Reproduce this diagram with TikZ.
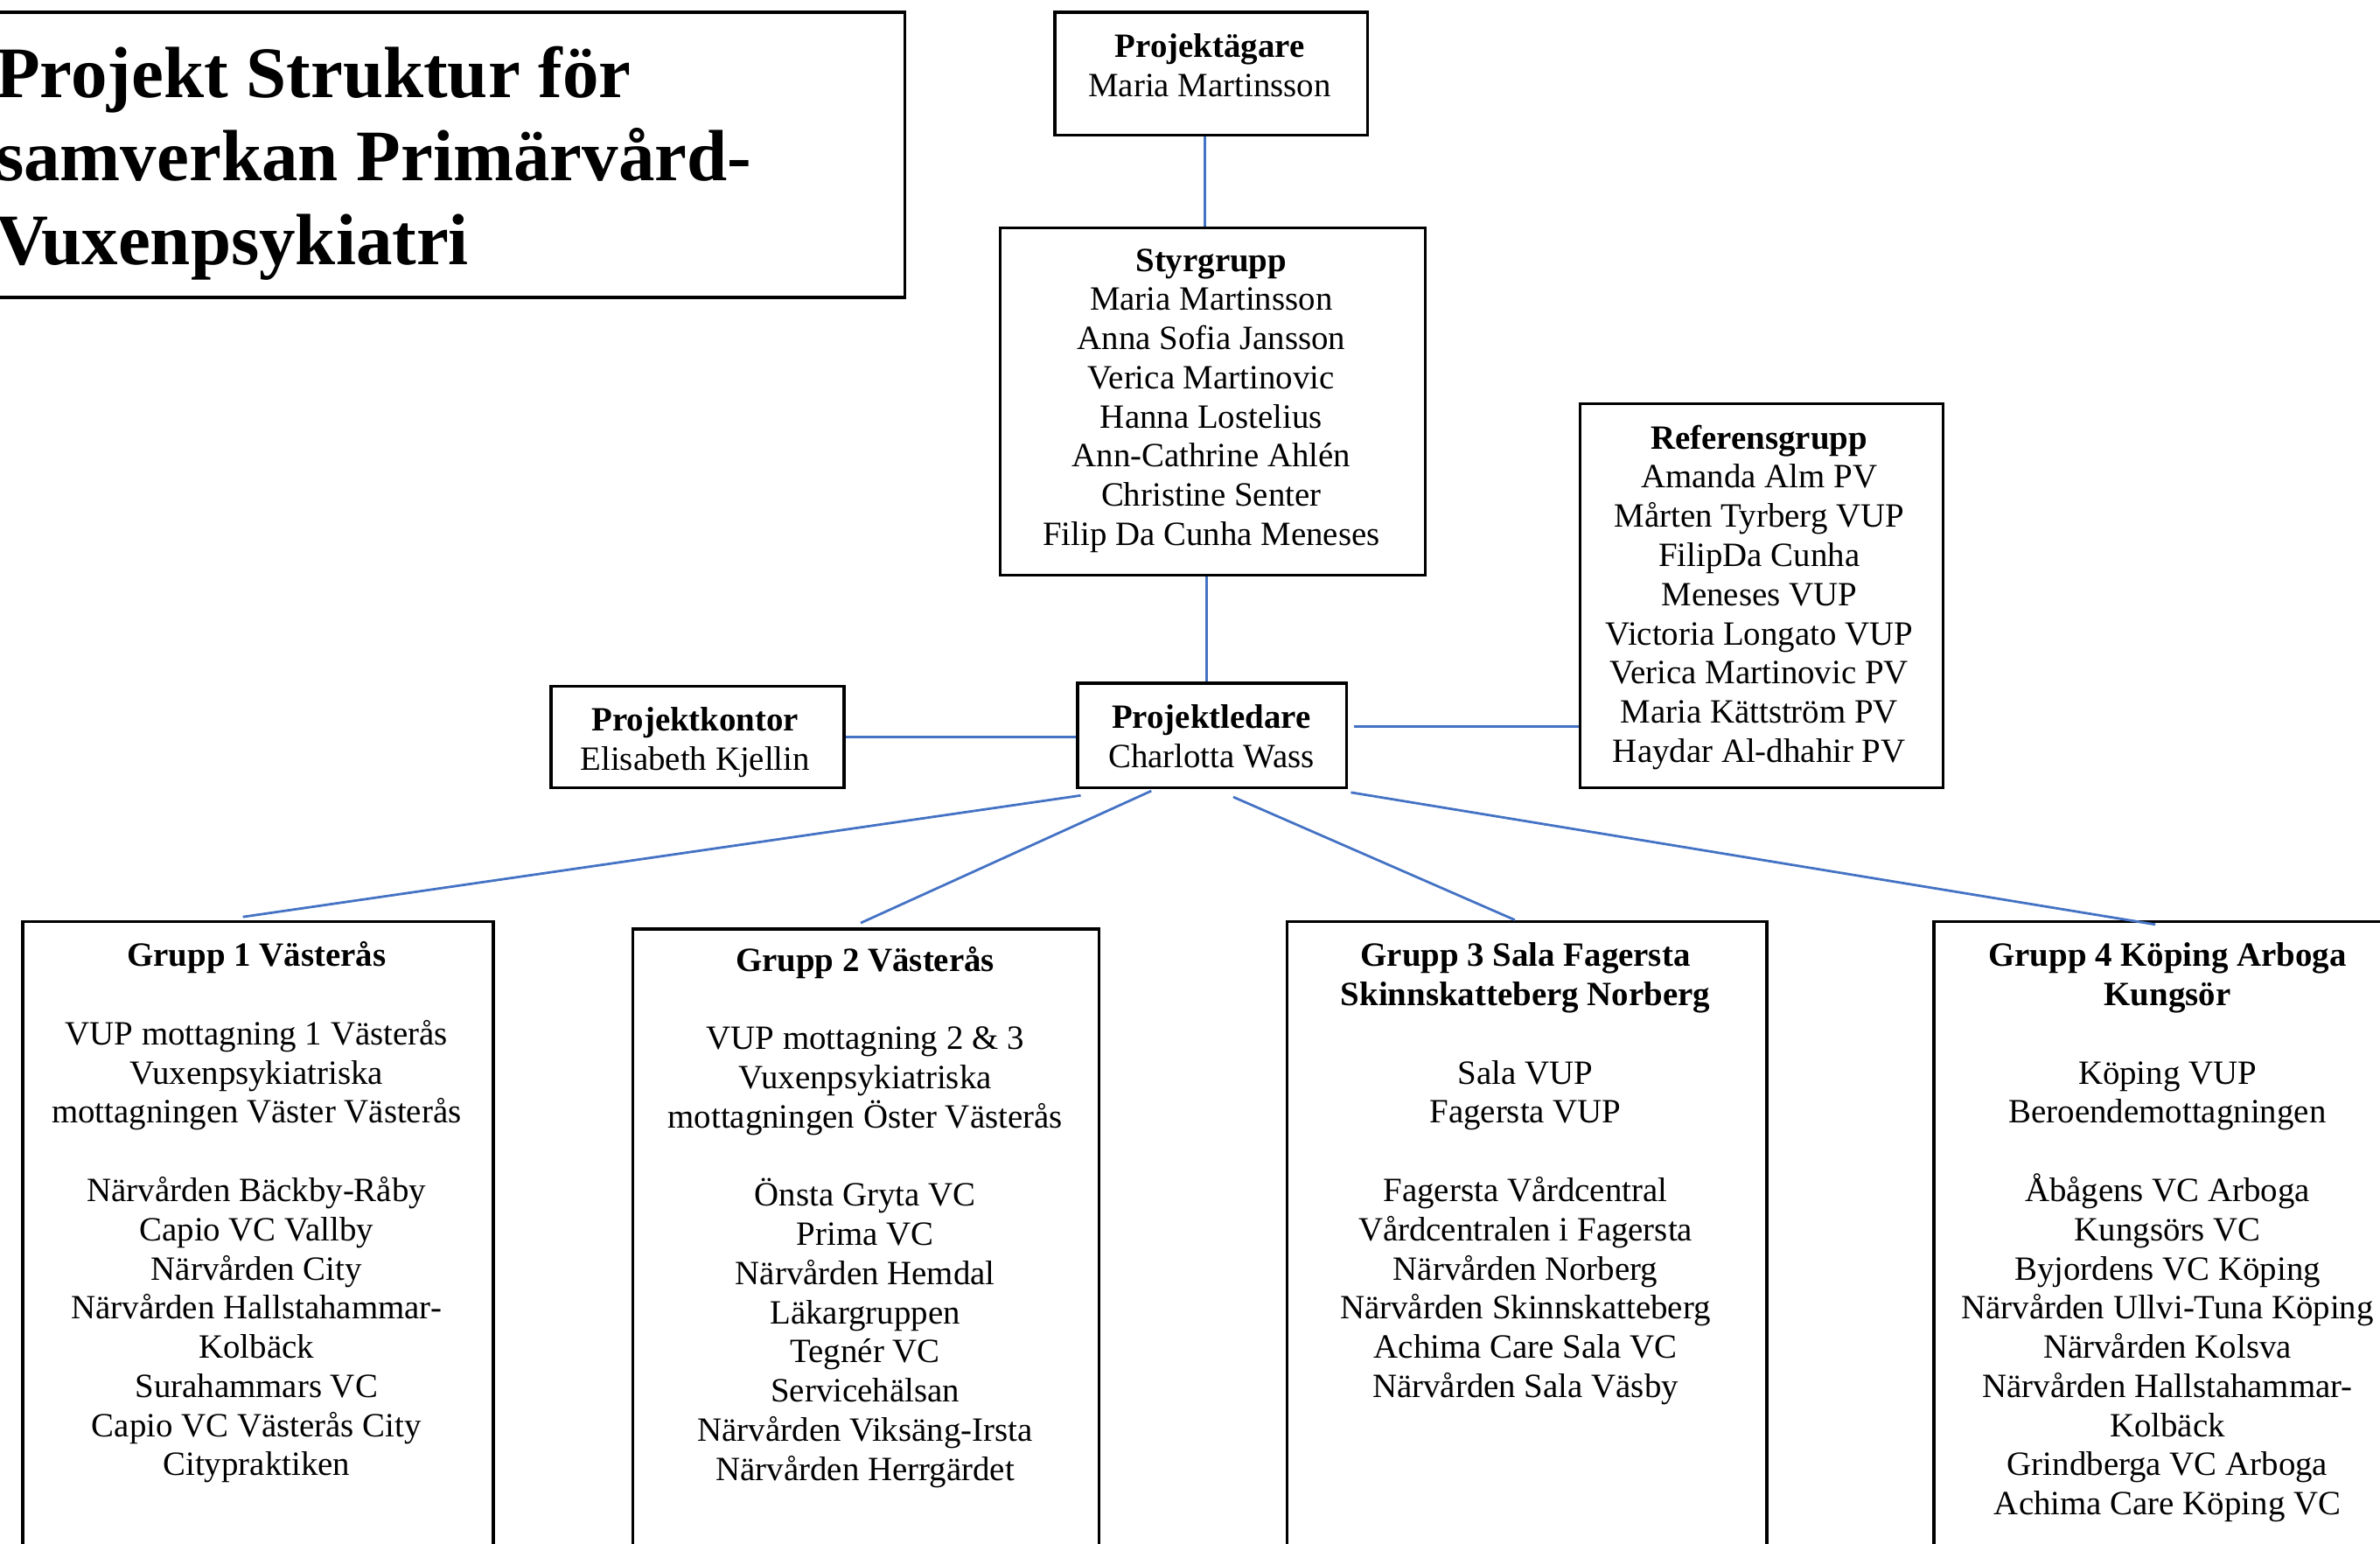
\documentclass[tikz,border=0pt]{standalone}
\usepackage{fontspec}
\setmainfont{Liberation Serif}
\usetikzlibrary{calc}
\definecolor{linkblue}{RGB}{68,114,196}
\tikzset{
  box/.style={draw=black, line width=2pt, rectangle, inner sep=0pt, anchor=north west},
  txt/.style={align=center, inner sep=0pt, anchor=north, font=\fontsize{22.4}{25.8}\selectfont},
  conn/.style={draw=linkblue, line width=1.6pt},
}
\newcommand{\fl}{\rule{0pt}{17pt}}
\begin{document}
\begin{tikzpicture}[x=1pt,y=-1pt]
\useasboundingbox (0,0) rectangle (1568,1017);
\clip (0,0) rectangle (1568,1017);
% title
\node[box, minimum width=615pt, minimum height=188pt] (titbox) at (-20,7) {};
\node[align=left, inner sep=0pt, anchor=north west, font=\fontsize{47.8}{55}\selectfont\bfseries] (titT) at (-3,24)
  {\rule{0pt}{40pt}Projekt Struktur för\\samverkan Primärvård-\\Vuxenpsykiatri};
% boxes
\node[box, minimum width=206pt, minimum height=81pt] (own) at (694,7) {};
\node[txt] (ownT) at (797,20.5) {\fl\textbf{Projektägare}\\Maria Martinsson};
\node[box, minimum width=280pt, minimum height=229pt] (sty) at (658,149) {};
\node[txt] (styT) at (798,161.5) {\fl\textbf{Styrgrupp}\\Maria Martinsson\\Anna Sofia Jansson\\Verica Martinovic\\Hanna Lostelius\\Ann-Cathrine Ahlén\\Christine Senter\\Filip Da Cunha Meneses};
\node[box, minimum width=239pt, minimum height=253pt] (ref) at (1040,265) {};
\node[txt] (refT) at (1159,278.5) {\fl\textbf{Referensgrupp}\\Amanda Alm PV\\Mårten Tyrberg VUP\\FilipDa Cunha\\Meneses VUP\\Victoria Longato VUP\\Verica Martinovic PV\\Maria Kättström PV\\Haydar Al-dhahir PV};
\node[box, minimum width=177pt, minimum height=69pt] (pl) at (709,449) {};
\node[txt] (plT) at (798,462.5) {\fl\textbf{Projektledare}\\Charlotta Wass};
\node[box, minimum width=193pt, minimum height=67pt] (pk) at (362,451) {};
\node[txt] (pkT) at (458,464.5) {\fl\textbf{Projektkontor}\\Elisabeth Kjellin};
% groups
\node[box, minimum width=310pt, minimum height=450pt] (g1) at (14,606) {};
\node[txt] (g1T) at (169,619.5) {\fl\textbf{Grupp 1 Västerås}\\[25.8pt]VUP mottagning 1 Västerås\\Vuxenpsykiatriska\\mottagningen Väster Västerås\\[25.8pt]Närvården Bäckby-Råby\\Capio VC Vallby\\Närvården City\\Närvården Hallstahammar-\\Kolbäck\\Surahammars VC\\Capio VC Västerås City\\Citypraktiken};
\node[box, minimum width=307pt, minimum height=445pt] (g2) at (416,611) {};
\node[txt] (g2T) at (570,622.5) {\fl\textbf{Grupp 2 Västerås}\\[25.8pt]VUP mottagning 2 \& 3\\Vuxenpsykiatriska\\mottagningen Öster Västerås\\[25.8pt]Önsta Gryta VC\\Prima VC\\Närvården Hemdal\\Läkargruppen\\Tegnér VC\\Servicehälsan\\Närvården Viksäng-Irsta\\Närvården Herrgärdet};
\node[box, minimum width=316pt, minimum height=450pt] (g3) at (847,606) {};
\node[txt] (g3T) at (1005,619.5) {\fl\textbf{Grupp 3 Sala Fagersta}\\\textbf{Skinnskatteberg Norberg}\\[25.8pt]Sala VUP\\Fagersta VUP\\[25.8pt]Fagersta Vårdcentral\\Vårdcentralen i Fagersta\\Närvården Norberg\\Närvården Skinnskatteberg\\Achima Care Sala VC\\Närvården Sala Väsby};
\node[box, minimum width=340pt, minimum height=450pt] (g4) at (1273,606) {};
\node[txt] (g4T) at (1428,619.5) {\fl\textbf{Grupp 4 Köping Arboga}\\\textbf{Kungsör}\\[25.8pt]Köping VUP\\Beroendemottagningen\\[25.8pt]Åbågens VC Arboga\\Kungsörs VC\\Byjordens VC Köping\\Närvården Ullvi-Tuna Köping\\Närvården Kolsva\\Närvården Hallstahammar-\\Kolbäck\\Grindberga VC Arboga\\Achima Care Köping VC};
% connectors
\draw[conn] ([xshift=-4pt]own.south) -- ([xshift=-4pt]own.south |- sty.north);
\draw[conn] ([xshift=-4pt]sty.south) -- ([xshift=-4pt]sty.south |- pl.north);
\draw[conn] (pk.east) -- (pk.east -| pl.west);
\draw[conn] ([xshift=4pt,yshift=6pt]pl.east) -- ([yshift=6pt]pl.east -| ref.west);
\draw[conn] ([xshift=3pt,yshift=-4pt]pl.south west) -- ([xshift=146pt,yshift=2pt]g1.north west);
\draw[conn] ([xshift=-40pt,yshift=-1pt]pl.south) -- ([xshift=151pt,yshift=3pt]g2.north west);
\draw[conn] ([xshift=14pt,yshift=-5pt]pl.south) -- ([xshift=151pt]g3.north west);
\draw[conn] ([xshift=2pt,yshift=-2pt]pl.south east) -- ([xshift=147pt,yshift=-3pt]g4.north west);
\end{tikzpicture}
\end{document}
